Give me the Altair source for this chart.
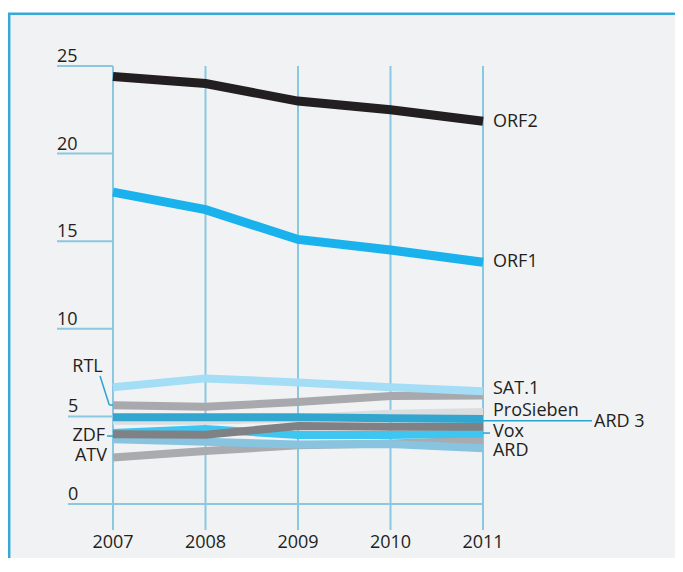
import altair as alt
import pandas as pd

# ---------------- data ----------------
years = [2007, 2008, 2009, 2010, 2011]
series_names = ["ATV", "ARD", "ProSieben", "Vox", "ZDF", "ARD 3", "RTL", "SAT.1", "ORF1", "ORF2"]
atv = [2.66, 3.02, 3.35, 3.45, 3.63]
ard = [3.70, 3.56, 3.39, 3.42, 3.18]
prosieben = [4.75, 4.75, 4.90, 5.15, 5.25]
vox = [4.05, 4.28, 3.94, 3.94, 4.03]
zdf = [3.98, 3.96, 4.45, 4.41, 4.41]
ard3 = [4.95, 4.95, 4.95, 4.89, 4.85]
rtl = [5.63, 5.55, 5.82, 6.16, 6.20]
sat1 = [6.66, 7.17, 6.94, 6.66, 6.43]
orf1 = [17.8, 16.8, 15.1, 14.5, 13.8]
orf2 = [24.4, 24.0, 23.0, 22.5, 21.85]
series_values = [atv, ard, prosieben, vox, zdf, ard3, rtl, sat1, orf1, orf2]
series_colors = ["#a9abae", "#88c4e0", "#dcdddf", "#3ec6f2", "#808184",
                 "#32a6cf", "#a7a9ac", "#a3ddf6", "#1ab2ec", "#231f20"]
series_widths = [8, 8, 8, 8, 8, 8, 8, 8, 9, 9]

y_ticks = [0, 5, 10, 15, 20, 25]
y_tick_start = [2006.514, 2006.514, 2006.395, 2006.395, 2006.395, 2006.395]
year_labels = ["2007", "2008", "2009", "2010", "2011"]

# line-end labels (right side, left aligned) and left labels (right aligned)
right_labels = ["ORF2", "ORF1", "SAT.1", "ProSieben", "Vox", "ARD", "ARD 3"]
right_label_x = [2011.108, 2011.108, 2011.108, 2011.108, 2011.108, 2011.108, 2012.20]
right_label_y = [21.8, 13.81, 6.56, 5.31, 4.11, 3.03, 4.70]
left_labels = ["RTL", "ZDF", "ATV"]
left_label_x = [2006.889, 2006.914, 2006.935]
left_label_y = [7.82, 3.91, 2.74]

# leader segments
lead_x = [2006.86, 2006.96, 2006.935, 2011.0, 2011.0]
lead_x2 = [2006.96, 2007.0, 2007.0, 2012.178, 2011.076]
lead_y = [7.31, 5.65, 3.88, 4.75, 4.05]
lead_y2 = [5.65, 5.65, 3.88, 4.75, 4.05]

# ---------------- chart ----------------
W, H = 667, 550
xs = alt.Scale(domain=[2005.8649, 2005.8649 + W / 92.5], nice=False, zero=False)
ys = alt.Scale(domain=[-3.082, 28.311], nice=False, zero=False)
FONT = "Open Sans"
TXT = "#231f20"
GRID = "#8ac7e0"

fdf = pd.DataFrame({"x": [1.2], "x2": [W + 20], "y": [5.8], "y2": [H + 20]})
frame = alt.Chart(fdf).mark_rect(
    fill="#f1f2f4", stroke="#36a9d6", strokeWidth=2.5
).encode(
    x=alt.X("x:Q", scale=None, axis=None), x2="x2:Q",
    y=alt.Y("y:Q", scale=None, axis=None), y2="y2:Q",
)

vdf = pd.DataFrame({"year": years, "top": [25] * 5, "bottom": [-1.48] * 5,
                    "ly": [-2.25] * 5, "lab": year_labels})
vlines = alt.Chart(vdf).mark_rule(color=GRID, strokeWidth=2).encode(
    x=alt.X("year:Q", scale=xs, axis=None),
    y=alt.Y("top:Q", scale=ys, axis=None),
    y2="bottom:Q",
)
xlabels = alt.Chart(vdf).mark_text(font=FONT, fontSize=18, color=TXT, align="center", baseline="middle").encode(
    x=alt.X("year:Q", scale=xs, axis=None),
    y=alt.Y("ly:Q", scale=ys, axis=None),
    text="lab:N",
)

hdf = pd.DataFrame({"v": y_ticks, "start": y_tick_start,
                    "end": [2011.0] + [2007.0] * 5, "lab": [str(t) for t in y_ticks]})
hlines = alt.Chart(hdf).mark_rule(color=GRID, strokeWidth=2).encode(
    x=alt.X("start:Q", scale=xs, axis=None),
    x2="end:Q",
    y=alt.Y("v:Q", scale=ys, axis=None),
)
ylabels = alt.Chart(hdf).mark_text(font=FONT, fontSize=18, color=TXT, align="left",
                                   baseline="alphabetic", dy=-4).encode(
    x=alt.X("start:Q", scale=xs, axis=None),
    y=alt.Y("v:Q", scale=ys, axis=None),
    text="lab:N",
)

rows = []
for name, vals in zip(series_names, series_values):
    for yr, v in zip(years, vals):
        rows.append({"series": name, "year": yr, "value": v})
sdf = pd.DataFrame(rows)

line_layers = []
for name, col, w in zip(series_names, series_colors, series_widths):
    line_layers.append(
        alt.Chart(sdf[sdf["series"] == name])
        .mark_line(color=col, strokeWidth=w, strokeCap="butt", strokeJoin="miter")
        .encode(x=alt.X("year:Q", scale=xs, axis=None), y=alt.Y("value:Q", scale=ys, axis=None))
    )

ldf = pd.DataFrame({"x": lead_x, "x2": lead_x2, "y": lead_y, "y2": lead_y2})
leaders = alt.Chart(ldf).mark_rule(color="#2aa3d1", strokeWidth=1.5).encode(
    x=alt.X("x:Q", scale=xs, axis=None), x2="x2:Q",
    y=alt.Y("y:Q", scale=ys, axis=None), y2="y2:Q",
)

rdf = pd.DataFrame({"x": right_label_x, "y": right_label_y, "t": right_labels})
rtext = alt.Chart(rdf).mark_text(font=FONT, fontSize=18, color=TXT, align="left", baseline="middle").encode(
    x=alt.X("x:Q", scale=xs, axis=None), y=alt.Y("y:Q", scale=ys, axis=None), text="t:N")
lfd = pd.DataFrame({"x": left_label_x, "y": left_label_y, "t": left_labels})
ltext = alt.Chart(lfd).mark_text(font=FONT, fontSize=18, color=TXT, align="right", baseline="middle").encode(
    x=alt.X("x:Q", scale=xs, axis=None), y=alt.Y("y:Q", scale=ys, axis=None), text="t:N")

chart = alt.layer(frame, vlines, hlines, ylabels, xlabels, *line_layers, leaders, rtext, ltext).properties(
    width=W, height=H, padding=0, autosize=alt.AutoSizeParams(type="none"),
    background="white",
).configure_view(stroke=None)

chart.save("out.html", embed_options={"renderer": "svg", "actions": False})
